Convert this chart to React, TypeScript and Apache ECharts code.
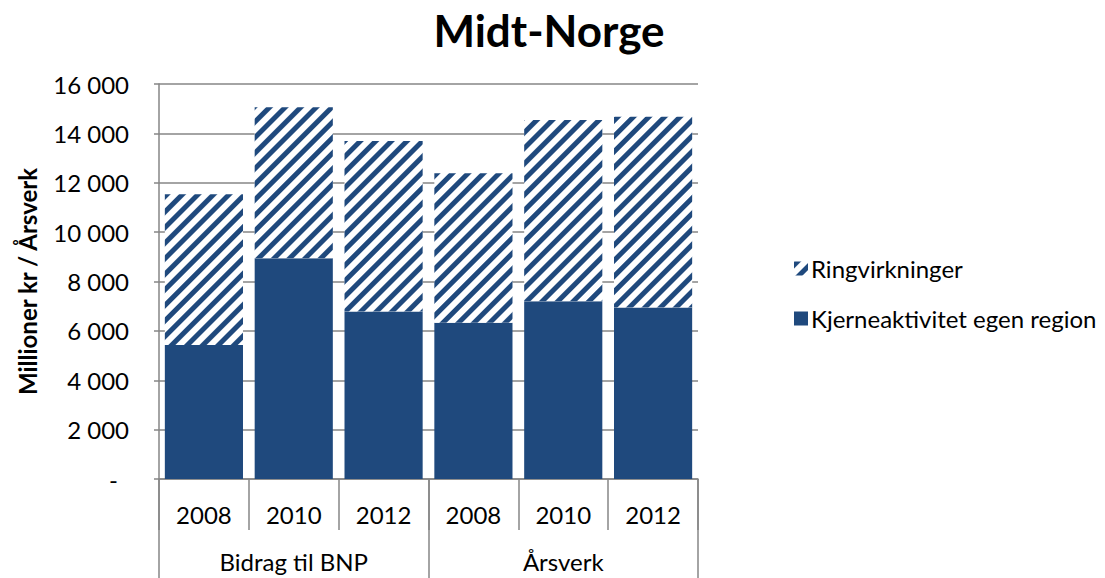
import React, { useEffect, useRef } from "react";
import * as echarts from "echarts";

const years = ["2008", "2010", "2012", "2008", "2010", "2012"];
const groups = ["Bidrag til BNP", "Årsverk"];
const kjerne = [5430, 8940, 6780, 6330, 7200, 6950];
const ring = [6100, 6120, 6910, 6050, 7340, 7720];
const yTicks = { min: 0, max: 16000, interval: 2000 };

const DARK = "#1F497D";
const GRAY = "#868686";
const FONT = "Lato";
const FS = 24;

function fmt(v: number): string {
  if (v === 0) return "{d|-}";
  return String(v).replace(/\B(?=(\d{3})+(?!\d))/g, " ");
}

export default function App() {
  const ref = useRef<HTMLDivElement>(null);
  useEffect(() => {
    if (!ref.current) return;
    const chart = echarts.init(ref.current, undefined, { renderer: "svg" });
    chart.setOption({
      animation: false,
      backgroundColor: "#ffffff",
      textStyle: { fontFamily: FONT },
      title: {
        text: "Midt-Norge",
        left: 544,
        textAlign: "center",
        top: 3,
        textStyle: { fontFamily: FONT, fontWeight: "bold", fontSize: 44, color: "#000" },
      },
      legend: {
        orient: "vertical",
        left: 789,
        top: 251,
        itemGap: 25,
        itemWidth: 14,
        itemHeight: 14,
        icon: "rect",
        data: ["Ringvirkninger", "Kjerneaktivitet egen region"],
        textStyle: { fontFamily: FONT, fontSize: FS, lineHeight: 25, color: "#000", padding: [0, 0, 0, -2] },
      },
      grid: { left: 159, right: 407, top: 84, bottom: 99, containLabel: false },
      xAxis: [
        {
          type: "category",
          data: years,
          position: "bottom",
          axisLine: { show: true, lineStyle: { color: GRAY, width: 1.5 } },
          axisTick: { show: true, length: 51, interval: 0, lineStyle: { color: GRAY, width: 1.5 } },
          axisLabel: { interval: 0, margin: 23, fontFamily: FONT, fontSize: FS, color: "#000" },
        },
        {
          type: "category",
          data: groups,
          position: "bottom",
          axisLine: { show: false },
          axisTick: { show: true, length: 110, interval: 0, lineStyle: { color: GRAY, width: 1.5 } },
          axisLabel: { interval: 0, margin: 70, fontFamily: FONT, fontSize: FS, color: "#000" },
        },
      ],
      yAxis: {
        type: "value",
        min: yTicks.min,
        max: yTicks.max,
        interval: yTicks.interval,
        name: "Millioner kr / Årsverk",
        nameLocation: "middle",
        nameGap: 120,
        nameTextStyle: { fontFamily: FONT, fontWeight: "bold", fontSize: FS, color: "#000" },
        axisLine: { show: true, lineStyle: { color: GRAY, width: 1.5 } },
        axisTick: { show: true, length: 5, lineStyle: { color: GRAY, width: 1.5 } },
        splitLine: { show: true, lineStyle: { color: GRAY, width: 1.5 } },
        axisLabel: {
          margin: 30,
          fontFamily: FONT,
          fontSize: FS,
          color: "#000",
          formatter: (v: number) => fmt(v),
          rich: { d: { fontFamily: FONT, fontSize: FS, color: "#000", padding: [0, 11, 0, 0] } },
        },
      },
      series: [
        {
          name: "Kjerneaktivitet egen region",
          type: "bar",
          stack: "total",
          xAxisIndex: 0,
          barCategoryGap: "13%",
          data: kjerne,
          itemStyle: { color: DARK },
        },
        {
          name: "Ringvirkninger",
          type: "bar",
          stack: "total",
          xAxisIndex: 0,
          barCategoryGap: "13%",
          data: ring,
          itemStyle: {
            color: "#ffffff",
            decal: {
              symbol: "rect",
              symbolSize: 1,
              dashArrayX: [1, 0],
              dashArrayY: [5, 6],
              rotation: -Math.PI / 4,
              color: DARK,
            },
          },
        },
      ],
    });
    return () => chart.dispose();
  }, []);
  return (
    <div
      ref={ref}
      style={{ width: 1105, height: 578, position: "fixed", left: 0, top: 0 }}
    />
  );
}
